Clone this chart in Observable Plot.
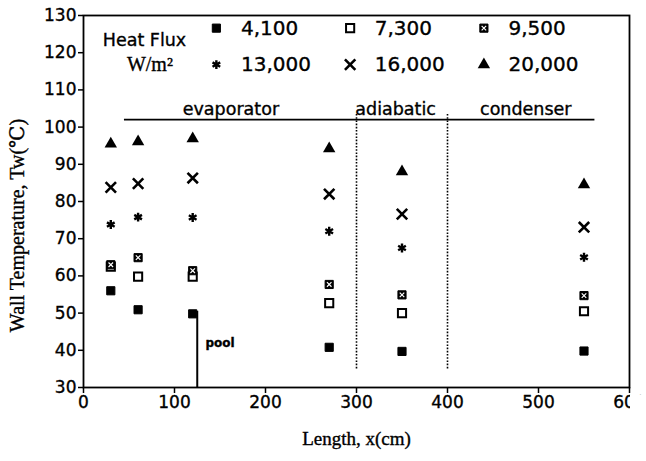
<!DOCTYPE html>
<html>
<head>
<meta charset="utf-8">
<script src="https://cdn.jsdelivr.net/npm/d3@7"></script>
<script src="https://cdn.jsdelivr.net/npm/@observablehq/plot@0.6"></script>
<style>
  body { margin: 0; background: #fff; }
  #wrap { position: relative; width: 646px; height: 461px; overflow: hidden; }
  #chart svg { display: block; }
  #chart svg text { stroke: black; stroke-width: 0.35px; }
  #crop { position: absolute; left: 630px; top: 395px; width: 16px; height: 26px; background: #fff; }
</style>
</head>
<body>
<div id="wrap"><div id="chart"></div><div id="crop"></div></div>
<script>
// Measurement positions (cm)
const positions = [30, 60, 120, 270, 350, 550];
// Wall temperatures (°C) for each heat flux (W/m²)
const flux4100  = [56.0, 50.9, 49.8, 40.8, 39.7, 39.8];
const flux7300  = [62.5, 59.8, 59.8, 52.7, 50.0, 50.5];
const flux9500  = [63.0, 64.9, 61.4, 57.7, 54.9, 54.7];
const flux13000 = [73.8, 75.8, 75.7, 72.0, 67.5, 65.0];
const flux16000 = [83.8, 84.8, 86.3, 82.0, 76.6, 73.1];
const flux20000 = [95.5, 96.1, 96.9, 94.2, 88.0, 84.5];

const xTicks = [0, 100, 200, 300, 400, 500, 600];
const yTicks = [30, 40, 50, 60, 70, 80, 90, 100, 110, 120, 130];

// Section annotations
const sectionNames = ["evaporator", "adiabatic", "condenser"];
const sectionCenters = [162, 343, 486];
const sectionBoundaries = [300, 400];

// Legend
const legendLabels = ["4,100", "7,300", "9,500", "13,000", "16,000", "20,000"];
const legendColumnsX = [146, 293, 440];
const legendRowsY = [126.6, 116.8];

const pts = (ys) => positions.map((x, i) => ({x, y: ys[i]}));
const legendSym = (k) => [{x: legendColumnsX[k % 3], y: legendRowsY[Math.floor(k / 3)]}];

const sans = "DejaVu Sans, Liberation Sans, sans-serif";
const serif = "Liberation Serif, DejaVu Serif, serif";

function squareMarks(data, kind) {
  const base = {x: "x", y: "y", symbol: "square", r: 4.6};
  if (kind === "filled") return [Plot.dot(data, {...base, fill: "black", stroke: "black", strokeWidth: 1})];
  if (kind === "open") return [Plot.dot(data, {...base, fill: "white", stroke: "black", strokeWidth: 2})];
  return [
    Plot.dot(data, {...base, fill: "black", stroke: "black", strokeWidth: 1}),
    Plot.dot(data, {x: "x", y: "y", symbol: "times", r: 2.2, stroke: "white", strokeWidth: 1.2})
  ];
}

function seriesMarks(data, k) {
  switch (k) {
    case 0: return squareMarks(data, "filled");
    case 1: return squareMarks(data, "open");
    case 2: return squareMarks(data, "pattern");
    case 3: return [Plot.dot(data, {x: "x", y: "y", symbol: "asterisk", r: 4.2, stroke: "black", strokeWidth: 2.4})];
    case 4: return [Plot.dot(data, {x: "x", y: "y", symbol: "times", r: 4.8, stroke: "black", strokeWidth: 2.6})];
    case 5: return [Plot.dot(data, {x: "x", y: "y", symbol: "triangle", r: 4.6, fill: "black"})];
  }
}

const allSeries = [flux4100, flux7300, flux9500, flux13000, flux16000, flux20000];

const chart = Plot.plot({
  width: 646,
  height: 461,
  marginLeft: 83,
  marginRight: 17,
  marginTop: 15,
  marginBottom: 74,
  style: {fontFamily: sans, background: "white", color: "black"},
  x: {domain: [0, 600], ticks: xTicks},
  y: {domain: [30, 130], ticks: yTicks},
  marks: [
    // section lines
    Plot.ruleY([102], {x1: 45, x2: 562, stroke: "black", strokeWidth: 1.6}),
    Plot.ruleX(sectionBoundaries, {y1: 35, y2: 103.5, stroke: "black", strokeWidth: 1.6, strokeDasharray: "1.6,1.6"}),
    Plot.text(sectionNames, {x: (d, i) => sectionCenters[i], y: 103.3, text: d => d, textAnchor: "middle", lineAnchor: "bottom", fontSize: 17.5, fill: "black"}),
    // pool
    Plot.ruleX([125], {y1: 30, y2: 50.5, stroke: "black", strokeWidth: 2}),
    Plot.text(["pool"], {x: 150, y: 41.8, text: d => d, fontSize: 12, fontWeight: "bold", fill: "black"}),
    // data
    ...allSeries.flatMap((s, k) => seriesMarks(pts(s), k)),
    // legend
    Plot.text(["Heat Flux"], {x: 67, y: 123.4, text: d => d, fontSize: 17.5, fill: "black"}),
    Plot.text(["W/m²"], {x: 73, y: 116.8, text: d => d, fontSize: 20, fontFamily: serif, fill: "black"}),
    ...legendLabels.flatMap((lab, k) => seriesMarks(legendSym(k), k)),
    Plot.text(legendLabels, {
      x: (d, i) => legendColumnsX[i % 3] + 27,
      y: (d, i) => legendRowsY[Math.floor(i / 3)],
      text: d => d, textAnchor: "start", fontSize: 20, fill: "black"
    }),
    // axes
    Plot.axisX({ticks: xTicks, tickSize: 6, tickPadding: 2, fontSize: 17, label: null, strokeWidth: 1.5}),
    Plot.axisY({ticks: yTicks, tickSize: 5, tickPadding: 2, fontSize: 17, label: null, strokeWidth: 1.5}),
    Plot.frame({stroke: "black", strokeWidth: 1.8}),
    // axis titles
    Plot.text(["Length, x(cm)"], {frameAnchor: "bottom", dy: 57, text: d => d, fontFamily: serif, fontSize: 19, fill: "black"}),
    Plot.text(["Wall Temperature, Tw(\u2103)"], {frameAnchor: "left", textAnchor: "middle", dx: -66, dy: 24, rotate: -90, text: d => d, fontFamily: serif, fontSize: 20, fill: "black"})
  ]
});

document.getElementById("chart").append(chart);
</script>
</body>
</html>
